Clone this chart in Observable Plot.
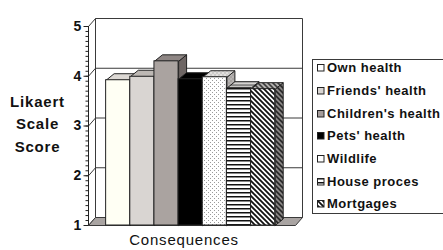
<!DOCTYPE html>
<html>
<head>
<meta charset="utf-8">
<script src="https://cdn.jsdelivr.net/npm/d3@7"></script>
<script src="https://cdn.jsdelivr.net/npm/@observablehq/plot@0.6"></script>
<style>
  html, body { margin: 0; padding: 0; background: #fff; }
  #wrap { position: relative; width: 443px; height: 250px; overflow: hidden; background: #fff; }
  #chart { position: absolute; left: 0; top: 0; }
  #legend { position: absolute; left: 312px; top: 59px; width: 150px; height: 155px; border: 1px solid #3a3a3a; box-sizing: border-box; background: #fff; }
  .item { position: absolute; left: 4px; height: 16px; line-height: 16px; display: flex; align-items: center;
          font-family: "Liberation Sans", Arial, sans-serif; font-weight: bold; font-size: 13px; letter-spacing: 0.5px; color: #111; white-space: nowrap; }
  .item svg { margin-right: 2px; flex: none; }
</style>
</head>
<body>
<svg width="0" height="0" style="position:absolute">
  <defs>
    <pattern id="dots" width="4" height="4" patternUnits="userSpaceOnUse">
      <rect width="4" height="4" fill="#ffffff"/>
      <rect x="0" y="0" width="1" height="1" fill="#9a9a9a"/>
      <rect x="2" y="2" width="1" height="1" fill="#9a9a9a"/>
    </pattern>
    <pattern id="dotsTop" width="4" height="4" patternUnits="userSpaceOnUse">
      <rect width="4" height="4" fill="#e2e0de"/>
      <rect x="0" y="0" width="1" height="1" fill="#8a8a8a"/>
      <rect x="2" y="2" width="1" height="1" fill="#8a8a8a"/>
    </pattern>
    <pattern id="dotsSide" width="4" height="4" patternUnits="userSpaceOnUse">
      <rect width="4" height="4" fill="#a8a4a2"/>
      <rect x="0" y="0" width="1" height="1" fill="#e0e0e0"/>
      <rect x="2" y="2" width="1" height="1" fill="#e0e0e0"/>
    </pattern>
    <pattern id="hlines" width="4" height="4" patternUnits="userSpaceOnUse">
      <rect width="4" height="4" fill="#ffffff"/>
      <rect x="0" y="0" width="4" height="1.5" fill="#111"/>
    </pattern>
    <pattern id="hlinesTop" width="4" height="4" patternUnits="userSpaceOnUse">
      <rect width="4" height="4" fill="#d4d2d0"/>
      <rect x="0" y="0" width="4" height="1.2" fill="#555"/>
    </pattern>
    <pattern id="hlinesSide" width="4" height="4" patternUnits="userSpaceOnUse">
      <rect width="4" height="4" fill="#a8a4a2"/>
      <rect x="0" y="0" width="4" height="1.5" fill="#111"/>
    </pattern>
    <pattern id="diag" width="5" height="5" patternUnits="userSpaceOnUse">
      <rect width="5" height="5" fill="#ffffff"/>
      <path d="M-1,-1 L6,6 M-1,4 L1,6 M4,-1 L6,1" stroke="#111" stroke-width="1.8"/>
    </pattern>
    <pattern id="diagTop" width="5" height="5" patternUnits="userSpaceOnUse">
      <rect width="5" height="5" fill="#d8d6d4"/>
      <path d="M-1,-1 L6,6 M-1,4 L1,6 M4,-1 L6,1" stroke="#222" stroke-width="1.8"/>
    </pattern>
    <pattern id="diagSide" width="5" height="5" patternUnits="userSpaceOnUse">
      <rect width="5" height="5" fill="#a8a4a2"/>
      <path d="M-1,-1 L6,6 M-1,4 L1,6 M4,-1 L6,1" stroke="#111" stroke-width="1.8"/>
    </pattern>
  </defs>
</svg>
<div id="wrap">
  <div id="chart"></div>
  <div id="legend"></div>
</div>
<script>
// ---- data ----
const categories = ["Own health", "Friends' health", "Children's health", "Pets' health", "Wildlife", "House proces", "Mortgages"];
const scores = [3.92, 3.99, 4.30, 3.94, 3.98, 3.76, 3.74];
const yTicks = [1, 2, 3, 4, 5];
const gridValues = [2, 3, 4];
const yLabelLines = ["Likaert", "Scale", "Score"];
const xTitle = "Consequences";

// ---- styles ----
const frontFill = ["#fffff4", "#d9d5d2", "#aaa3a0", "#000000", "url(#dots)", "url(#hlines)", "url(#diag)"];
const topFill   = ["#dcd8d4", "#bdb8b4", "#8e8684", "#000000", "url(#dotsTop)", "url(#hlinesTop)", "url(#diagTop)"];
const sideFill  = ["#bcb6b2", "#a09a96", "#6e6664", "#000000", "url(#dotsSide)", "url(#hlinesSide)", "url(#diagSide)"];
const legendFill = ["#ffffff", "#d9d5d2", "#a49c9a", "#000000", "#ffffff", "url(#hlines)", "url(#diag)"];

const W = 443, H = 250;
const mL = 88, mR = 148, mT = 26, mB = 25;
const x0 = -0.73, xR = 7.84;               // x domain (bar index units)
const kx = (xR - x0) / (W - mL - mR);      // data units per px
const ky = (5 - 1) / (H - mT - mB);
const wdx = 7 * kx, wdy = 8 * ky;          // wall depth
const bdx = 8 * kx, bdy = 6.5 * ky;        // bar depth

const bars = categories.map((c, i) => ({i, c, v: scores[i], front: frontFill[i]}));

// wall polygons
const walls = [];
function poly(arr, id, pts, fill, stroke) {
  for (const [x, y] of [...pts, pts[0]]) arr.push({id, x, y, fill, stroke});
}
poly(walls, "left", [[x0, 1], [x0, 5], [x0 + wdx, 5 + wdy], [x0 + wdx, 1 + wdy]], "#ffffff", "#3a3a3a");
poly(walls, "back", [[x0 + wdx, 1 + wdy], [x0 + wdx, 5 + wdy], [xR + wdx, 5 + wdy], [xR + wdx, 1 + wdy]], "#ffffff", "#3a3a3a");
poly(walls, "floor", [[x0, 1], [xR, 1], [xR + wdx, 1 + wdy], [x0 + wdx, 1 + wdy]], "#a9a4a2", "#3a3a3a");

// bar depth faces (side + top), in drawing order
const faces = [];
bars.forEach(b => {
  const xl = b.i, xr = b.i + 1, v = b.v;
  poly(faces, "s" + b.i, [[xr, 1], [xr, v], [xr + bdx, v + bdy], [xr + bdx, 1 + bdy]], sideFill[b.i], "#222");
  poly(faces, "t" + b.i, [[xl, v], [xr, v], [xr + bdx, v + bdy], [xl + bdx, v + bdy]], topFill[b.i], "#222");
});

const plot = Plot.plot({
  width: W, height: H,
  marginLeft: mL, marginRight: mR, marginTop: mT, marginBottom: mB,
  x: {domain: [x0, xR], axis: null},
  y: {domain: [1, 5]},
  color: {type: "identity"},
  style: {fontFamily: "Liberation Sans, Arial, sans-serif", fontSize: "13px", background: "#fff", color: "#222", letterSpacing: "0.8px", overflow: "visible"},
  marks: [
    Plot.line(walls, {x: "x", y: "y", z: "id", fill: "fill", stroke: "stroke", strokeWidth: 1, curve: "linear"}),
    Plot.ruleY(gridValues, {x1: x0 + wdx, x2: xR + wdx, dy: -8, stroke: "#3a3a3a", strokeWidth: 1}),
    Plot.link(gridValues, {x1: x0, x2: x0 + wdx, y1: d => d, y2: d => d + wdy, stroke: "#3a3a3a", strokeWidth: 1}),
    Plot.line(faces, {x: "x", y: "y", z: "id", fill: "fill", stroke: "stroke", strokeWidth: 1, curve: "linear"}),
    Plot.rectY(bars, {x1: "i", x2: d => d.i + 1, y1: 1, y2: "v", fill: "front", stroke: "#222", strokeWidth: 1}),
    Plot.ruleX([x0], {y1: 1, y2: 5, stroke: "#222", strokeWidth: 1}),
    Plot.axisY(d3.ticks(1, 5, 40), {tickSize: 2.5, text: null, label: null, stroke: "#222"}),
    Plot.axisY(yTicks, {tickSize: 4.5, tickPadding: 2, tickFormat: d => String(d), label: null, stroke: "#222", fill: "#111", fontWeight: "bold", fontSize: 14}),
    Plot.text([yLabelLines.join("\n")], {frameAnchor: "left", dx: -51, dy: -4, textAnchor: "middle", lineHeight: 1.5, fontSize: 15, fontWeight: "bold", fill: "#111"}),
    Plot.text([xTitle], {frameAnchor: "bottom", dx: -8, dy: 19.5, textAnchor: "middle", fontSize: 15, fill: "#111"})
  ]
});
document.getElementById("chart").appendChild(plot);

// legend
const legend = d3.select("#legend");
categories.forEach((c, i) => {
  const item = legend.append("div").attr("class", "item").style("top", (68.3 + 22.67 * i - 59 - 1 - 8) + "px");
  const s = item.append("svg").attr("width", 8).attr("height", 8);
  s.append("rect").attr("x", 0.5).attr("y", 0.5).attr("width", 6.5).attr("height", 6.5)
    .attr("fill", legendFill[i]).attr("stroke", "#222").attr("stroke-width", 1);
  item.append("span").text(c);
});
</script>
</body>
</html>
